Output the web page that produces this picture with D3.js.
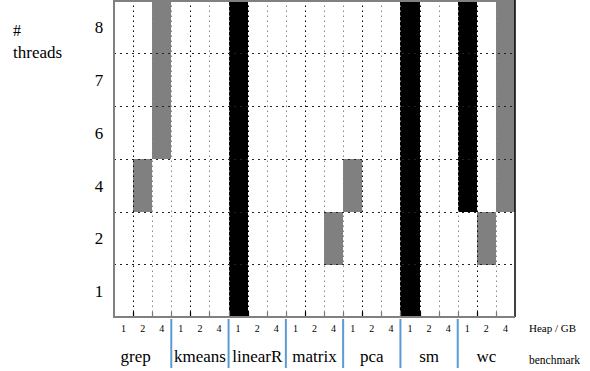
<!DOCTYPE html>
<html>
<head>
<meta charset="utf-8">
<script src="https://cdn.jsdelivr.net/npm/d3@7"></script>
<style>
  html, body { margin: 0; padding: 0; background: #fff; }
  svg { display: block; font-family: "Liberation Serif", "DejaVu Serif", serif; }
</style>
</head>
<body>
<svg id="chart" width="590" height="371"></svg>
<script>
// ---- data ----
const benchmarks = ["grep", "kmeans", "linearR", "matrix", "pca", "sm", "wc"];
const heaps = ["1", "2", "4"];
const threads = ["1", "2", "4", "6", "7", "8"];
// cells: [benchmark, heap, threads]
const grayCells = [
  ["grep", "2", "4"],
  ["grep", "4", "6"], ["grep", "4", "7"], ["grep", "4", "8"],
  ["matrix", "4", "2"],
  ["pca", "1", "4"],
  ["wc", "2", "2"],
  ["wc", "4", "4"], ["wc", "4", "6"], ["wc", "4", "7"], ["wc", "4", "8"]
];
const blackCells = [
  ["linearR", "1", "1"], ["linearR", "1", "2"], ["linearR", "1", "4"],
  ["linearR", "1", "6"], ["linearR", "1", "7"], ["linearR", "1", "8"],
  ["sm", "1", "1"], ["sm", "1", "2"], ["sm", "1", "4"],
  ["sm", "1", "6"], ["sm", "1", "7"], ["sm", "1", "8"],
  ["wc", "1", "4"], ["wc", "1", "6"], ["wc", "1", "7"], ["wc", "1", "8"]
];

// ---- layout ----
const svg = d3.select("#chart");
const pLeft = 114, pRight = 515, pTop = 0.5, pBottom = 317;

const columns = benchmarks.flatMap(b => heaps.map(h => b + "|" + h));
const x = d3.scaleBand().domain(columns).range([pLeft, pRight]).padding(0);
const y = d3.scaleBand().domain(threads).range([pBottom, pTop]).padding(0);
const xb = d3.scaleBand().domain(benchmarks).range([pLeft, pRight]).padding(0);

const cells = [
  ...grayCells.map(c => ({ b: c[0], h: c[1], t: c[2], fill: "#808080" })),
  ...blackCells.map(c => ({ b: c[0], h: c[1], t: c[2], fill: "#000000" }))
];

// cells
svg.append("g").selectAll("rect").data(cells).join("rect")
  .attr("x", d => x(d.b + "|" + d.h))
  .attr("y", d => y(d.t))
  .attr("width", x.bandwidth())
  .attr("height", y.bandwidth() + 0.3)
  .attr("fill", d => d.fill)
  .attr("shape-rendering", "crispEdges");

// vertical dotted gridlines
const grid = svg.append("g");
columns.forEach((c, i) => {
  if (i === 0) return;
  const xx = Math.round(x(c)) + 0.5;
  const h = c.split("|")[1];
  grid.append("line")
    .attr("x1", xx).attr("x2", xx).attr("y1", pTop).attr("y2", pBottom)
    .attr("stroke", h === "2" ? "#000" : "#888")
    .attr("stroke-width", 1)
    .attr("stroke-dasharray", "1.5,3.5");
  grid.append("line")
    .attr("x1", xx).attr("x2", xx).attr("y1", pBottom - 5).attr("y2", pBottom)
    .attr("stroke", h === "2" ? "#000" : "#777")
    .attr("stroke-width", 1.2);
});
// horizontal dotted gridlines
threads.forEach((t, i) => {
  if (i === threads.length - 1) return;
  const yy = Math.round(y(t)) + 0.5;
  grid.append("line")
    .attr("x1", pLeft).attr("x2", pRight).attr("y1", yy).attr("y2", yy)
    .attr("stroke", "#222")
    .attr("stroke-width", 1)
    .attr("stroke-dasharray", "2,4");
});

// frame
svg.append("line").attr("x1", pLeft).attr("x2", pRight).attr("y1", 1).attr("y2", 1)
  .attr("stroke", "#808080").attr("stroke-width", 2);
svg.append("line").attr("x1", pRight).attr("x2", pRight).attr("y1", 0).attr("y2", pBottom)
  .attr("stroke", "#000").attr("stroke-width", 1.5);
svg.append("line").attr("x1", pLeft).attr("x2", pLeft).attr("y1", 0).attr("y2", pBottom + 1)
  .attr("stroke", "#808080").attr("stroke-width", 2);
svg.append("line").attr("x1", pLeft).attr("x2", pRight).attr("y1", pBottom).attr("y2", pBottom)
  .attr("stroke", "#808080").attr("stroke-width", 2);

// y tick labels
svg.append("g").selectAll("text").data(threads).join("text")
  .attr("x", 99)
  .attr("y", d => y(d) + y.bandwidth() / 2 + 6.5)
  .attr("text-anchor", "middle")
  .attr("font-size", 17)
  .attr("fill", "#000")
  .text(d => d);

// heap tick labels
svg.append("g").selectAll("text").data(columns).join("text")
  .attr("x", d => x(d) + x.bandwidth() / 2)
  .attr("y", 332)
  .attr("text-anchor", "middle")
  .attr("font-size", 10)
  .text(d => d.split("|")[1]);

// benchmark labels
svg.append("g").selectAll("text").data(benchmarks).join("text")
  .attr("x", d => xb(d) + xb.bandwidth() / 2 + (d === "grep" ? -7 : 0))
  .attr("y", 362)
  .attr("text-anchor", "middle")
  .attr("font-size", 17)
  .text(d => d);

// blue separators
svg.append("g").selectAll("line").data(benchmarks.slice(1)).join("line")
  .attr("x1", d => xb(d)).attr("x2", d => xb(d))
  .attr("y1", 319).attr("y2", 368)
  .attr("stroke", "#5b9bd5").attr("stroke-width", 2);

// axis titles
svg.append("text").attr("x", 529).attr("y", 332).attr("font-size", 11).text("Heap / GB");
svg.append("text").attr("x", 529).attr("y", 364).attr("font-size", 11.5).text("benchmark");
svg.append("text").attr("x", 13).attr("y", 36).attr("font-size", 16).text("#");
svg.append("text").attr("x", 13).attr("y", 58).attr("font-size", 17).text("threads");
</script>
</body>
</html>
